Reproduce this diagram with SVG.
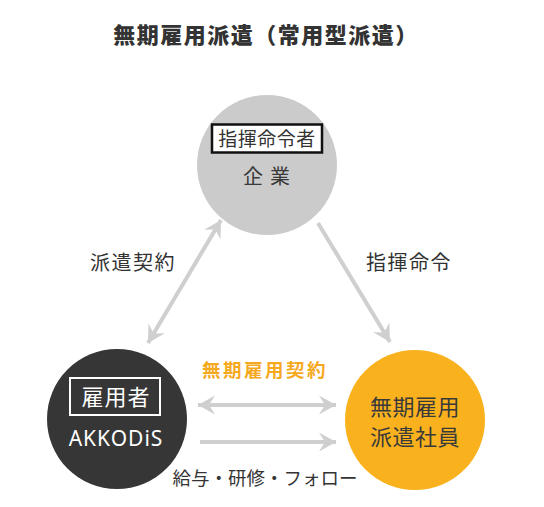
<svg xmlns="http://www.w3.org/2000/svg" width="544" height="507" viewBox="0 0 544 507">
<style>
  text { font-family: "Noto Sans CJK JP", "Noto Sans", sans-serif; }
  .title { font-size: 22px; font-weight: 900; fill: #333333; letter-spacing: 1.5px; }
  .lbl { font-size: 20px; fill: #333333; letter-spacing: 1.5px; }
  .orange { font-size: 18.5px; font-weight: bold; fill: #f5a91f; letter-spacing: 2.5px; }
  .arrow { stroke: #cfcfcf; stroke-width: 4; fill: none; }
</style>
<defs>
  <marker id="head" markerUnits="userSpaceOnUse" viewBox="-18 -10 19 20" refX="0" refY="0" markerWidth="19" markerHeight="20" orient="auto-start-reverse">
    <path d="M0,0 L-17,-9.5 L-11,0 L-17,9.5 Z" fill="#cfcfcf"/>
  </marker>
</defs>
<rect width="544" height="507" fill="#ffffff"/>
<text class="title" x="266" y="43" text-anchor="middle">無期雇用派遣（常用型派遣）</text>

<g id="connectors">
  <line class="arrow" x1="148" y1="343" x2="221" y2="220" marker-start="url(#head)" marker-end="url(#head)"/>
  <line class="arrow" x1="318" y1="223" x2="390" y2="342" marker-end="url(#head)"/>
  <line class="arrow" x1="198" y1="405" x2="336" y2="405" marker-start="url(#head)" marker-end="url(#head)"/>
  <line class="arrow" x1="200" y1="442" x2="336" y2="442" marker-end="url(#head)"/>
  <text class="lbl" x="133" y="270" text-anchor="middle">派遣契約</text>
  <text class="lbl" x="409" y="270" text-anchor="middle">指揮命令</text>
  <text class="orange" x="265" y="377" text-anchor="middle">無期雇用契約</text>
  <text class="lbl" x="265" y="485" text-anchor="middle" style="font-size:18.5px;letter-spacing:0px">給与・研修・フォロー</text>
</g>

<g id="company">
  <circle cx="267" cy="165" r="70" fill="#cbcbcb"/>
  <rect x="212" y="124.5" width="110" height="28" fill="#ffffff" stroke="#111111" stroke-width="2.5"/>
  <text x="267" y="146" text-anchor="middle" style="font-size:19px;fill:#333333;letter-spacing:0.5px">指揮命令者</text>
  <text x="270" y="184" text-anchor="middle" style="font-size:20px;fill:#3a3a3a;letter-spacing:7px">企業</text>
</g>

<g id="akkodis">
  <circle cx="117" cy="419" r="70" fill="#363636"/>
  <rect x="70" y="378" width="90" height="37" fill="none" stroke="#ffffff" stroke-width="2"/>
  <text x="116" y="405" text-anchor="middle" style="font-size:22px;fill:#ffffff;letter-spacing:1px">雇用者</text>
  <text x="116" y="446" text-anchor="middle" style="font-family:'Noto Sans','DejaVu Sans',sans-serif;font-size:21px;fill:#ffffff;letter-spacing:1px">AKKODiS</text>
</g>

<g id="employee">
  <circle cx="415" cy="420" r="70" fill="#f9b21d"/>
  <text x="415" y="415" text-anchor="middle" style="font-size:22px;fill:#3a3a3a;letter-spacing:0.5px">無期雇用</text>
  <text x="415" y="445" text-anchor="middle" style="font-size:22px;fill:#3a3a3a;letter-spacing:0.5px">派遣社員</text>
</g>
</svg>
